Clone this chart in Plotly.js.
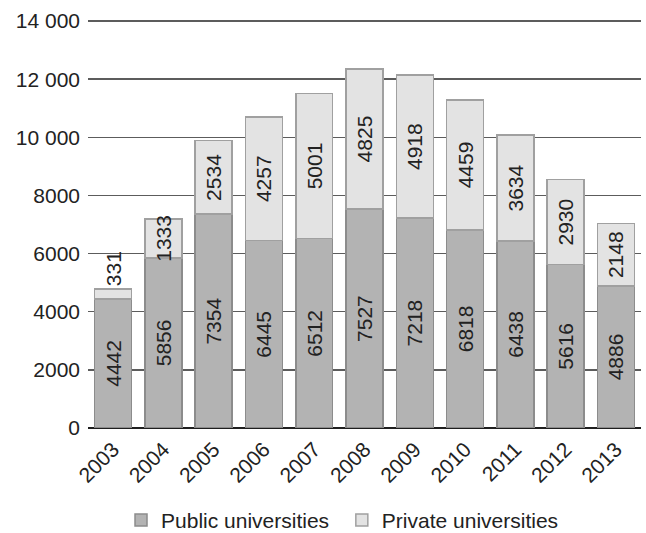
<!DOCTYPE html>
<html>
<head>
<meta charset="utf-8">
<script src="https://cdn.plot.ly/plotly-3.0.1.min.js"></script>
<style>
  html, body { margin: 0; padding: 0; background: #ffffff; }
  #chart { width: 646px; height: 533px; }
</style>
</head>
<body>
<div id="chart"></div>
<script>
// Enrolment by year, split by type of university
const years = ['2003', '2004', '2005', '2006', '2007', '2008', '2009', '2010', '2011', '2012', '2013'];
const publicUniversities = [4442, 5856, 7354, 6445, 6512, 7527, 7218, 6818, 6438, 5616, 4886];
const privateUniversities = [331, 1333, 2534, 4257, 5001, 4825, 4918, 4459, 3634, 2930, 2148];
const yTickValues = [0, 2000, 4000, 6000, 8000, 10000, 12000, 14000];
const yTickLabels = ['0', '2000', '4000', '6000', '8000', '10 000', '12 000', '14 000'];

const FONT = 'Liberation Sans, Arial, Helvetica, sans-serif';
const INK = '#222222';

// small segments sit above the stack, the rest are labelled inside
const privatePositions = privateUniversities.map(v => v < 600 ? 'outside' : 'inside');

const common = {
  type: 'bar',
  x: years,
  textangle: -90,
  insidetextanchor: 'middle',
  constraintext: 'none',
  cliponaxis: false,
  textfont: { family: FONT, size: 21, color: INK },
  hoverinfo: 'skip'
};

const traces = [
  Object.assign({}, common, {
    name: 'Public universities',
    legend: 'legend',
    y: publicUniversities,
    text: publicUniversities.map(String),
    textposition: 'inside',
    marker: { color: '#b3b3b3', line: { color: '#8c8c8c', width: 1.5 } }
  }),
  Object.assign({}, common, {
    name: 'Private universities',
    legend: 'legend2',
    y: privateUniversities,
    text: privateUniversities.map(String),
    textposition: privatePositions,
    marker: { color: '#e3e3e3', line: { color: '#a0a0a0', width: 1.5 } }
  })
];

// one legend per series so each entry can be placed on its own
const legendBase = {
  orientation: 'h',
  xanchor: 'left',
  yanchor: 'middle',
  y: -0.226,
  font: { family: FONT, size: 21, color: INK },
  bgcolor: 'rgba(0,0,0,0)',
  itemwidth: 30,
  entrywidth: 225
};

const layout = {
  width: 646,
  height: 533,
  margin: { l: 88, r: 5, t: 19, b: 105, pad: 0, autoexpand: false },
  paper_bgcolor: '#ffffff',
  plot_bgcolor: '#ffffff',
  barmode: 'stack',
  bargap: 0.265,
  font: { family: FONT, size: 21, color: INK },
  showlegend: true,
  legend: Object.assign({}, legendBase, { x: 0.0597 }),
  legend2: Object.assign({}, legendBase, { x: 0.459 }),
  xaxis: {
    type: 'category',
    automargin: false,
    tickangle: -45,
    ticks: '',
    showgrid: false,
    showline: false,
    zeroline: false,
    ticklabelstandoff: 4,
    tickfont: { family: FONT, size: 21, color: INK }
  },
  yaxis: {
    range: [0, 14069],
    automargin: false,
    tickvals: yTickValues,
    ticktext: yTickLabels,
    ticks: '',
    showgrid: true,
    gridcolor: '#5c5c5c',
    gridwidth: 1.5,
    zeroline: true,
    zerolinecolor: '#1e1e1e',
    zerolinewidth: 2,
    showline: false,
    ticklabelstandoff: 7,
    tickfont: { family: FONT, size: 21, color: INK }
  }
};

Plotly.newPlot('chart', traces, layout, { staticPlot: true, displayModeBar: false });
</script>
</body>
</html>
